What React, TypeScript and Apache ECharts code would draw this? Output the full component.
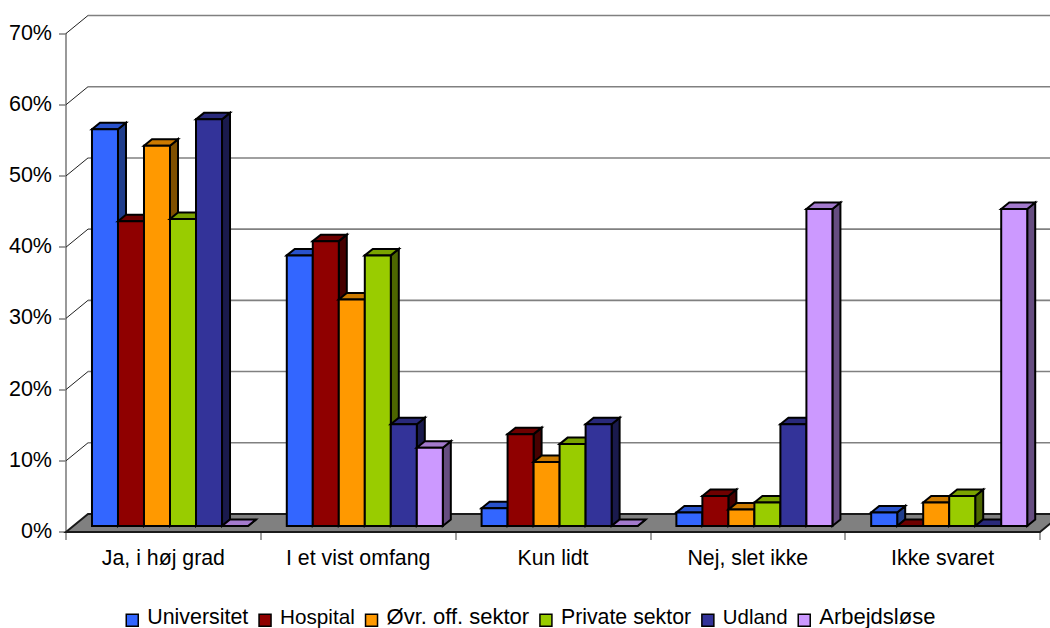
import React, { useEffect, useRef } from "react";
import * as echarts from "echarts";

const categories = ["Ja, i høj grad", "I et vist omfang", "Kun lidt", "Nej, slet ikke", "Ikke svaret"];
const yTicks = [0, 10, 20, 30, 40, 50, 60, 70];
const universitet = [55.7, 38, 2.5, 1.9, 1.9];
const hospital = [42.8, 40, 12.9, 4.2, 0];
const ovrOff = [53.4, 31.8, 9, 2.3, 3.3];
const privat = [43.1, 38, 11.5, 3.3, 4.2];
const udland = [57.1, 14.3, 14.3, 14.3, 0];
const arbejdslose = [0, 11, 0, 44.5, 44.5];
const seriesNames = ["Universitet", "Hospital", "Øvr. off. sektor", "Private sektor", "Udland", "Arbejdsløse"];
const seriesValues = [universitet, hospital, ovrOff, privat, udland, arbejdslose];
const colors = ["#3366FF", "#8F0000", "#FF9900", "#99CC00", "#333399", "#CC99FF"];
const topColors = ["#2952CC", "#6E0000", "#CC7A00", "#7AA300", "#29297A", "#A37ACC"];
const sideColors = ["#1F3D8C", "#470000", "#805000", "#4D6600", "#1A1A4D", "#664D80"];
const legendFontSizes = [21.4, 20.7, 22, 21.3, 20.4, 22];

const FONT = "Liberation Sans";
const WALL_DX = 22, WALL_DY = -18;
const BAR_OX = 6.6, BAR_OY = -6;
const BAR_DX = 8, BAR_DY = -6.5;
const EDGE = "#000000";

function wallItem(params: any, api: any) {
  const v = api.value(0);
  const cs = params.coordSys;
  const y = api.coord([0, v])[1];
  const left = cs.x, right = cs.x + cs.width;
  if (v === 0) {
    return {
      type: "polygon",
      shape: { points: [[left, y], [left + WALL_DX, y + WALL_DY], [right + WALL_DX, y + WALL_DY], [right, y]] },
      style: { fill: "#808080", stroke: "#1a1a1a", lineWidth: 2 },
    };
  }
  return {
    type: "group",
    children: [
      { type: "line", shape: { x1: left, y1: y, x2: left + WALL_DX, y2: y + WALL_DY }, style: { stroke: "#202020", lineWidth: 1 } },
      { type: "line", shape: { x1: left + WALL_DX, y1: y + WALL_DY, x2: right + WALL_DX, y2: y + WALL_DY }, style: { stroke: "#808080", lineWidth: 1.6 } },
    ],
  };
}

function barItem(sIdx: number) {
  return (params: any, api: any) => {
    const cat = api.value(0), val = api.value(1);
    const base = api.coord([cat, 0]);
    const tip = api.coord([cat, val]);
    const w = api.size([1, 0])[0] * 0.1335;
    const x0 = base[0] + BAR_OX + (sIdx - 3) * w;
    const x1 = x0 + w;
    const yb = base[1] + BAR_OY;
    const yt = tip[1] + BAR_OY;
    const st = { stroke: EDGE, lineWidth: 2, lineJoin: "miter" };
    return {
      type: "group",
      children: [
        { type: "polygon", shape: { points: [[x1, yt], [x1 + BAR_DX, yt + BAR_DY], [x1 + BAR_DX, yb + BAR_DY], [x1, yb]] }, style: { ...st, fill: sideColors[sIdx] } },
        { type: "polygon", shape: { points: [[x0, yt], [x0 + BAR_DX, yt + BAR_DY], [x1 + BAR_DX, yt + BAR_DY], [x1, yt]] }, style: { ...st, fill: topColors[sIdx] } },
        { type: "rect", shape: { x: x0, y: yt, width: w, height: yb - yt }, style: { ...st, fill: colors[sIdx] } },
      ],
    };
  };
}

export default function App() {
  const ref = useRef<HTMLDivElement>(null);
  useEffect(() => {
    const chart = echarts.init(ref.current!, undefined, { renderer: "svg" });
    const legendRich: any = {};
    legendFontSizes.forEach((s, i) => {
      legendRich["r" + i] = { fontFamily: FONT, fontSize: s, color: "#000", padding: [0, 0, 0, 4] };
    });
    chart.setOption({
      animation: false,
      backgroundColor: "#ffffff",
      textStyle: { fontFamily: FONT },
      grid: { left: 66, right: 10, top: 33.5, bottom: 96, containLabel: false },
      legend: {
        data: seriesNames,
        left: 125.5,
        top: 605.8,
        padding: 0,
        itemWidth: 12,
        itemHeight: 19,
        itemGap: 10,
        icon: "path://M0 0ZM0 7H12V19H0Z",
        formatter: (name: string) => `{r${seriesNames.indexOf(name)}|${name}}`,
        textStyle: { fontFamily: FONT, fontSize: 21.5, color: "#000", rich: legendRich },
        itemStyle: { borderColor: "#000", borderWidth: 1.5 },
      },
      xAxis: {
        type: "category",
        data: categories,
        axisLine: { show: true, lineStyle: { color: "#808080", width: 1.5 } },
        axisTick: { show: true, length: 8, lineStyle: { color: "#808080", width: 1.5 } },
        axisLabel: { fontFamily: FONT, fontSize: 21.3, color: "#000", margin: 15 },
      },
      yAxis: {
        type: "value",
        min: 0,
        max: 70,
        interval: 10,
        splitLine: { show: false },
        axisLine: { show: true, lineStyle: { color: "#808080", width: 1.6 } },
        axisTick: { show: true, length: 7, lineStyle: { color: "#808080", width: 1.5 } },
        axisLabel: {
          color: "#000",
          margin: 14,
          formatter: "{a|{value}%}",
          rich: { a: { fontFamily: FONT, fontSize: 21.5, color: "#000", padding: [0, 0, 2, 0] } },
        },
      },
      series: [
        {
          type: "custom",
          name: "wall",
          silent: true,
          coordinateSystem: "cartesian2d",
          renderItem: wallItem,
          encode: { y: 0 },
          data: yTicks.map((v) => [v]),
          z: 1,
        },
        ...seriesNames.map((name, i) => ({
          type: "custom",
          name,
          coordinateSystem: "cartesian2d",
          renderItem: barItem(i),
          encode: { x: 0, y: 1 },
          itemStyle: { color: colors[i] },
          data: seriesValues[i].map((v, c) => [c, v]),
          z: 2,
        })),
      ],
    });
    return () => chart.dispose();
  }, []);
  return <div ref={ref} style={{ position: "absolute", left: 0, top: 0, width: 1050, height: 628 }} />;
}
